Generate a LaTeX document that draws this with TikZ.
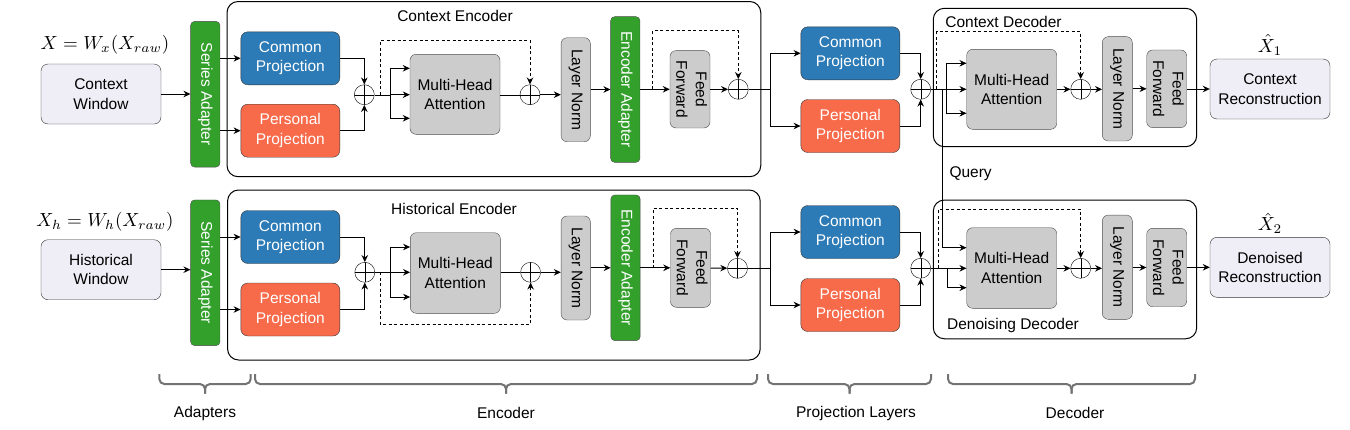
\documentclass[tikz,border=0pt]{standalone}
\usepackage[no-math]{fontspec}
\setsansfont{Liberation Sans}
\usepackage{graphicx}
\usepackage{amsmath}
\usepackage{xcolor}
\usepackage{tikz}
\usetikzlibrary{arrows.meta, positioning, calc}
\definecolor{projblue}{HTML}{2C7BB6}
\definecolor{projorange}{HTML}{F76B4B}
\definecolor{adaptgreen}{HTML}{33A02C}
\definecolor{layergray}{HTML}{CCCCCC}
\definecolor{winfill}{HTML}{EFEDF5}
\newcommand{\diagfont}{\fontsize{15.5}{19.5}\selectfont\sffamily}
\newcommand{\sidetext}[1]{\rotatebox{-90}{\begin{tabular}{@{}c@{}}#1\end{tabular}}}

\begin{document}
\begin{tikzpicture}[
    x=1pt, y=-1pt,
    font=\diagfont,
    wbox/.style   = {draw=black!80, fill=winfill, rounded corners=7pt,
                     minimum width=120pt, minimum height=60pt, align=center},
    proj/.style   = {draw=black!80, rounded corners=7pt, minimum width=99pt,
                     minimum height=53pt, align=center, text=white},
    gbox/.style   = {draw=black!70, fill=layergray, rounded corners=6pt,
                     inner sep=0pt, align=center},
    abox/.style   = {draw=black!70, fill=adaptgreen, rounded corners=4pt,
                     minimum width=29.3pt, minimum height=145.7pt,
                     inner sep=0pt, text=white},
    oplus/.style  = {draw, circle, minimum size=20pt, inner sep=0pt,
                     path picture={\draw (path picture bounding box.north) -- (path picture bounding box.south)
                                         (path picture bounding box.west) -- (path picture bounding box.east);}},
    outer/.style  = {draw, rounded corners=11pt, line width=1pt},
    eq/.style     = {font=\normalsize\rmfamily, scale=1.9},
    arr/.style    = {-{Stealth[length=7pt,width=6.5pt]}, line width=1pt},
    res/.style    = {arr, dashed, dash pattern=on 3pt off 2.5pt},
    brc/.style    = {draw=black!55, line width=2pt, rounded corners=5pt},
  ]
  \useasboundingbox (0,0) rectangle (1350,429);

  %% Encoder / decoder frames
  \node[outer, minimum width=533.7pt, minimum height=175.2pt] (encC) at (493.9,89.1) {};
  \node[outer, minimum width=532.6pt, minimum height=170pt]   (encH) at (493.9,275)  {};
  \node[outer, minimum width=263.4pt, minimum height=138.4pt] (decC) at (1065,77.5)  {};
  \node[outer, minimum width=263.4pt, minimum height=138.7pt] (decH) at (1065,269.4) {};
  \node at (455,16)      (encCl) {Context Encoder};
  \node at (454,209.3)   (encHl) {Historical Encoder};
  \node at (1003.5,21.7) (decCl) {Context Decoder};
  \node at (1013,325.7)  (decHl) {Denoising Decoder};

  %% Inputs
  \node[wbox] (cwin) at (101,94)    {Context\\Window};
  \node[wbox] (hwin) at (101,269.7) {Historical\\Window};
  \node[eq] (xc) at (105,45)    {$X=W_x(X_{raw})$};
  \node[eq] (xh) at (105,221.7) {$X_h=W_h(X_{raw})$};

  %% Series adapters
  \node[abox] (sadC) at (205.3,94.2)  {\sidetext{Series Adapter}};
  \node[abox] (sadH) at (205.3,272.8) {\sidetext{Series Adapter}};

  %% Context encoder
  \node[proj, fill=projblue]   (comC) at (290.3,58.3)  {Common\\Projection};
  \node[proj, fill=projorange] (perC) at (290.3,130.7) {Personal\\Projection};
  \node[oplus] (sumC1) at (364.3,94.7) {};
  \node[gbox, minimum width=90pt, minimum height=80pt] (mhaC) at (455,94.3) {Multi-Head\\Attention};
  \node[oplus] (sumC2) at (530,94.7) {};
  \node[gbox, minimum width=29.3pt, minimum height=104pt] (lnC) at (575.7,89.7) {\sidetext{Layer Norm}};
  \node[abox] (eadC) at (625.3,89.5) {\sidetext{Encoder Adapter}};
  \node[gbox, minimum width=40pt, minimum height=77.3pt] (ffC) at (690,89.3) {\sidetext{Feed\\Forward}};
  \node[oplus] (sumC3) at (738.3,89.3) {};

  %% Historical encoder
  \node[proj, fill=projblue]   (comH) at (290.3,237)   {Common\\Projection};
  \node[proj, fill=projorange] (perH) at (290.3,309.5) {Personal\\Projection};
  \node[oplus] (sumH1) at (364.8,272.3) {};
  \node[gbox, minimum width=90pt, minimum height=80.6pt] (mhaH) at (455.3,273) {Multi-Head\\Attention};
  \node[oplus] (sumH2) at (530.6,272.3) {};
  \node[gbox, minimum width=29.3pt, minimum height=104pt] (lnH) at (575.7,268) {\sidetext{Layer Norm}};
  \node[abox] (eadH) at (625.5,267.8) {\sidetext{Encoder Adapter}};
  \node[gbox, minimum width=40pt, minimum height=79pt] (ffH) at (690.5,267.8) {\sidetext{Feed\\Forward}};
  \node[oplus] (sumH3) at (737.5,268.3) {};

  %% Projection layers
  \node[proj, fill=projblue]   (comP1) at (850.3,53.3)  {Common\\Projection};
  \node[proj, fill=projorange] (perP1) at (850.3,126)   {Personal\\Projection};
  \node[proj, fill=projblue]   (comP2) at (850.3,232)   {Common\\Projection};
  \node[proj, fill=projorange] (perP2) at (850.3,305)   {Personal\\Projection};

  %% Context decoder
  \node[oplus] (sumD1) at (920.7,89.3) {};
  \node[gbox, minimum width=90pt, minimum height=80pt] (mhaD1) at (1011.7,89.3) {Multi-Head\\Attention};
  \node[oplus] (sumD2) at (1080.7,89.3) {};
  \node[gbox, minimum width=30pt, minimum height=104.3pt] (lnD1) at (1117.3,88.8) {\sidetext{Layer Norm}};
  \node[gbox, minimum width=40pt, minimum height=77.7pt] (ffD1) at (1166.7,88.8) {\sidetext{Feed\\Forward}};
  \node[wbox] (recC) at (1270,89) {Context\\Reconstruction};
  \node[eq] (x1) at (1270,45) {$\hat{X}_1$};

  %% Denoising decoder
  \node[oplus] (sumD3) at (920.7,268.3) {};
  \node[gbox, minimum width=90pt, minimum height=80.6pt] (mhaD2) at (1011.7,268) {Multi-Head\\Attention};
  \node[oplus] (sumD4) at (1080.7,268.3) {};
  \node[gbox, minimum width=30pt, minimum height=104.3pt] (lnD2) at (1117.3,267.2) {\sidetext{Layer Norm}};
  \node[gbox, minimum width=40pt, minimum height=78.4pt] (ffD2) at (1166.7,267.5) {\sidetext{Feed\\Forward}};
  \node[wbox] (recH) at (1270,267.3) {Denoised\\Reconstruction};
  \node[eq] (x2) at (1270,223.3) {$\hat{X}_2$};

  %% Branch points
  \coordinate (forkC)  at (390,94.7);
  \coordinate (forkH)  at (390.3,272.3);
  \coordinate (forkP1) at (770.7,89.3);
  \coordinate (forkP2) at (770.5,268.3);
  \coordinate (forkD1) at (946.7,89.3);
  \coordinate (forkD2) at (947.5,268.3);
  \coordinate (resC1) at (380,94.7);
  \coordinate (resH1) at (380,272.3);
  \coordinate (resC2) at (652.7,89.3);
  \coordinate (resH2) at (653,268.3);
  \coordinate (resD1) at (936.7,89.3);
  \coordinate (resD2) at (938.7,268.3);
  \coordinate (qtop)  at (942.7,89.3);

  %% Context row
  \draw[arr] (cwin) -- (cwin -| sadC.west);
  \draw[arr] (sadC.east |- comC) -- (comC);
  \draw[arr] (sadC.east |- perC) -- (perC);
  \draw[arr] (comC) -| (sumC1.north);
  \draw[arr] (perC) -| (sumC1.south);
  \draw (sumC1) -- (forkC);
  \draw[arr] (forkC) -- (mhaC.west |- forkC);
  \draw[arr] (forkC) |- ([yshift=26pt]mhaC.west);
  \draw[arr] (forkC) |- ([yshift=-24pt]mhaC.west);
  \draw (mhaC.east |- sumC2) -- (sumC2);
  \draw[res] (resC1) -- ++(0,-54) -| (sumC2.north);
  \draw[arr] (sumC2) -- (lnC.west |- sumC2);
  \draw[arr] (lnC.east |- eadC) -- (eadC);
  \draw[arr] (eadC.east |- ffC) -- (ffC);
  \draw[res] (resC2) -- ++(0,-58.6) -| (sumC3.north);
  \draw[arr] (ffC) -- (sumC3);
  \draw (sumC3) -- (forkP1);
  \draw[arr] (forkP1) |- (comP1);
  \draw[arr] (forkP1) |- (perP1);
  \draw[arr] (comP1) -| (sumD1.north);
  \draw[arr] (perP1) -| (sumD1.south);
  \draw (sumD1) -- (forkD1);
  \draw[arr] (forkD1) -- (mhaD1);
  \draw[arr] (forkD1) |- ([yshift=26pt]mhaD1.west);
  \draw[arr] (forkD1) |- ([yshift=-24pt]mhaD1.west);
  \draw[res] (resD1) -- ++(0,-57.6) -| (sumD2.north);
  \draw[arr] (mhaD1) -- (sumD2);
  \draw[arr] (sumD2) -- (lnD1.west |- sumD2);
  \draw[arr] (lnD1.east |- ffD1) -- (ffD1);
  \draw[arr] (ffD1.east |- recC) -- (recC);

  %% Query
  \draw[arr] (qtop) |- ([yshift=20.3pt]mhaD2.west);
  \node[anchor=west] (qlab) at (946,173.3) {Query};

  %% Historical row
  \draw[arr] (hwin) -- (hwin -| sadH.west);
  \draw[arr] (sadH.east |- comH) -- (comH);
  \draw[arr] (sadH.east |- perH) -- (perH);
  \draw[arr] (comH) -| (sumH1.north);
  \draw[arr] (perH) -| (sumH1.south);
  \draw (sumH1) -- (forkH);
  \draw[arr] (forkH) -- (mhaH.west |- forkH);
  \draw[arr] (forkH) |- ([yshift=26pt]mhaH.west);
  \draw[arr] (forkH) |- ([yshift=-24pt]mhaH.west);
  \draw (mhaH.east |- sumH2) -- (sumH2);
  \draw[res] (resH1) -- ++(0,52) -| (sumH2.south);
  \draw[arr] (sumH2) -- (lnH.west |- sumH2);
  \draw[arr] (lnH.east |- eadH) -- (eadH);
  \draw[arr] (eadH.east |- ffH) -- (ffH);
  \draw[res] (resH2) -- ++(0,-60) -| (sumH3.north);
  \draw[arr] (ffH) -- (sumH3);
  \draw (sumH3) -- (forkP2);
  \draw[arr] (forkP2) |- (comP2);
  \draw[arr] (forkP2) |- (perP2);
  \draw[arr] (comP2) -| (sumD3.north);
  \draw[arr] (perP2) -| (sumD3.south);
  \draw (sumD3) -- (forkD2);
  \draw[arr] (forkD2) -- (mhaD2.west |- forkD2);
  \draw[arr] (forkD2) |- ([yshift=-19.7pt]mhaD2.west);
  \draw[res] (resD2) -- ++(0,-59) -| (sumD4.north);
  \draw[arr] (mhaD2.east |- sumD4) -- (sumD4);
  \draw[arr] (sumD4) -- (lnD2.west |- sumD4);
  \draw[arr] (lnD2.east |- ffD2) -- (ffD2);
  \draw[arr] (ffD2.east |- recH) -- (recH);

  %% Braces
  \draw[brc] (159.3,374) |- (205,384) -- (205,393.5);
  \draw[brc] (250.7,374) |- (205,384) -- (205,393.5);
  \draw[brc] (255,374) |- (506,384) -- (506,393.5);
  \draw[brc] (757,374) |- (506,384) -- (506,393.5);
  \draw[brc] (768,374) |- (849.5,384) -- (849.5,393.5);
  \draw[brc] (931,374) |- (849.5,384) -- (849.5,393.5);
  \draw[brc] (948,374) |- (1071.5,384) -- (1071.5,393.5);
  \draw[brc] (1195,374) |- (1071.5,384) -- (1071.5,393.5);
  \node (lAd)  at (205,413)  {Adapters};
  \node (lEnc) at (506,413)  {Encoder};
  \node (lPro) at (856,413)  {Projection Layers};
  \node (lDec) at (1075,413) {Decoder};

\end{tikzpicture}
\end{document}
